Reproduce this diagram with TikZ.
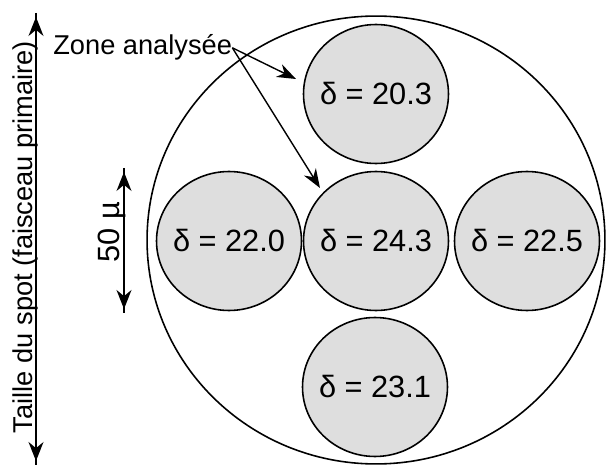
\documentclass[tikz,border=0pt]{standalone}
\usepackage{fontspec}
\setmainfont{Liberation Sans}
\usetikzlibrary{arrows.meta,shapes.geometric}

\begin{document}
\begin{tikzpicture}[
    x=0.02cm,y=-0.02cm,
    every node/.style={font=\fontsize{17.5}{20}\selectfont,inner sep=0pt},
    zone/.style={ellipse,draw,line width=0.9pt,
                 minimum width=9.16cm,minimum height=8.96cm},
    spot/.style={ellipse,draw,fill=black!13,line width=0.9pt,
                 minimum width=2.9cm,minimum height=2.78cm},
    lbl/.style={font=\fontsize{15.5}{18}\selectfont},
    arrow/.style={-{Stealth[length=3.8mm,width=2.8mm]},line width=0.8pt},
    dim/.style={line width=0.8pt,
                postaction={draw,{Stealth[length=3.8mm,width=3mm]}-{Stealth[length=3.8mm,width=3mm]},
                            shorten <=0.8mm,shorten >=0.8mm}},
]
    \useasboundingbox (0,0) rectangle (606,466);

    \node[zone] (faisceau) at (376,240) {};
    \node[spot,label={center:δ = 20.3}] (d203) at (376,94)  {};
    \node[spot,label={center:δ = 22.0}] (d220) at (229,241) {};
    \node[spot,label={center:δ = 24.3}] (d243) at (376,241) {};
    \node[spot,label={center:δ = 22.5}] (d225) at (527,241) {};
    \node[spot,label={center:δ = 23.1}] (d231) at (375,387) {};

    \node[lbl,anchor=base west] (zone) at (53,55) {Zone analysée};
    \coordinate (pt203) at (296,79);
    \coordinate (pt243) at (320,188);
    \draw[arrow] (zone.east) -- (pt203);
    \draw[arrow] (zone.east) -- (pt243);

    \node[lbl,rotate=90,anchor=base] (taille) at (32,237) {Taille du spot (faisceau primaire)};
    \coordinate (spottop) at (36,13);
    \coordinate (spotbot) at (36,465);
    \draw[dim] (spottop) -- (spotbot);

    \node[rotate=90,anchor=base] (cinquante) at (119,232) {50 µ};
    \coordinate (dimtop) at (124,168);
    \coordinate (dimbot) at (124,313);
    \draw[dim] (dimtop) -- (dimbot);
\end{tikzpicture}
\end{document}
